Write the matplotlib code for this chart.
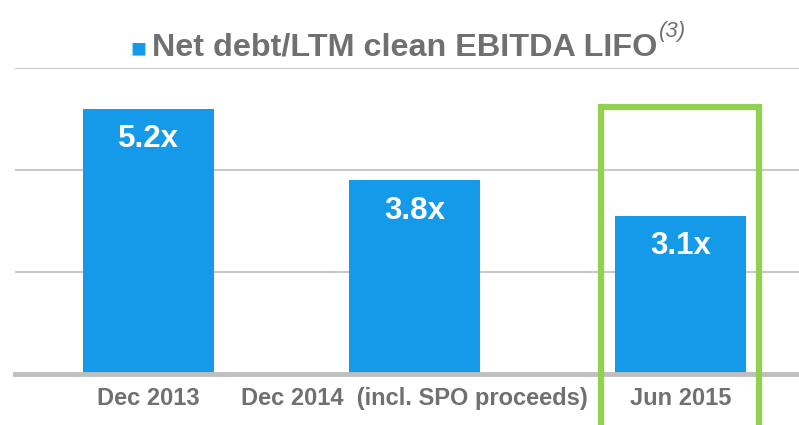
import matplotlib
matplotlib.use("Agg")
import matplotlib.pyplot as plt
from matplotlib.patches import Rectangle

# data
periods = ["Dec 2013", "Dec 2014  (incl. SPO proceeds)", "Jun 2015"]
leverage = [5.2, 3.8, 3.1]
value_labels = ["5.2x", "3.8x", "3.1x"]
highlight_idx = 2

blue = "#159AE9"
green = "#92D050"
grey_text = "#707070"

plt.rcParams["font.family"] = ["Liberation Sans", "DejaVu Sans"]

fig = plt.figure(figsize=(7.99, 4.25), dpi=100)
ax = fig.add_axes([15 / 799, 1 - 374 / 425, 784 / 799, (374 - 68) / 425])

x = range(len(periods))
ax.bar(x, leverage, width=0.49, color=blue, zorder=2)

for i, (v, lab) in enumerate(zip(leverage, value_labels)):
    ax.text(i, v - 0.6, lab, ha="center", va="center", color="white",
            fontsize=22.5, fontweight="bold", zorder=3)

ax.set_xlim(-0.502, 2.445)
ax.set_ylim(0, 6)
ax.set_yticks([2, 4, 6])
ax.yaxis.grid(True, color="#c8c8c8", linewidth=1.5, zorder=0)
ax.set_yticklabels([])
ax.tick_params(left=False, bottom=False)
for s in ["top", "right", "left"]:
    ax.spines[s].set_visible(False)
ax.spines["bottom"].set_color("#bfbfbf")
ax.spines["bottom"].set_linewidth(3.5)

ax.set_xticks(list(x))
ax.set_xticklabels(periods, fontsize=17, fontweight="bold", color=grey_text)
ax.tick_params(axis="x", pad=6)

# green highlight box around the latest period
hx = highlight_idx
ax.add_patch(Rectangle((hx - 0.30, -2), 0.595, 2 + 5.235, fill=False,
                       edgecolor=green, linewidth=4.5, clip_on=False, zorder=4))

# title with blue legend square and italic footnote marker
title = fig.text(0.5066, 1 - 48 / 425, "Net debt/LTM clean EBITDA LIFO", ha="center",
                 va="center", fontsize=23.3, fontweight="bold", color=grey_text)
ax.annotate("■", xy=(0, 0.5), xycoords=title, xytext=(-4, -1), textcoords="offset points",
            ha="right", va="center", fontsize=19, color=blue)
ax.annotate("(3)", xy=(1, 1), xycoords=title, xytext=(1, 1), textcoords="offset points",
            ha="left", va="center", fontsize=16, style="italic", color=grey_text)

fig.savefig("out.png", dpi=100)
